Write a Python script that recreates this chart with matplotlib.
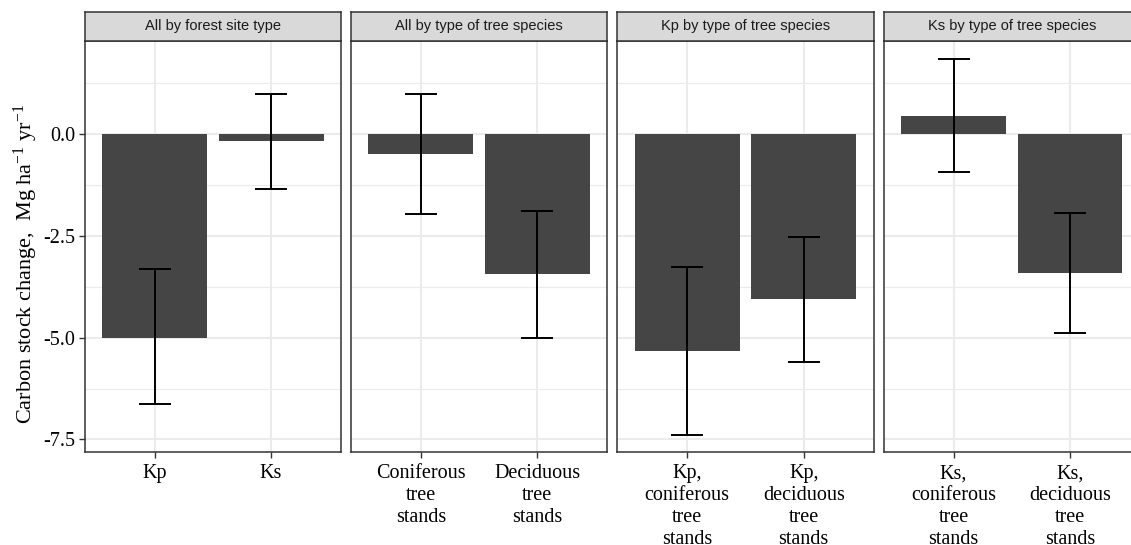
import matplotlib
matplotlib.use("Agg")
import matplotlib.pyplot as plt
import numpy as np

# ---- data ----
panel_titles = ["All by forest site type", "All by type of tree species",
                "Kp by type of tree species", "Ks by type of tree species"]
categories = [
    ["Kp", "Ks"],
    ["Coniferous\ntree\nstands", "Deciduous\ntree\nstands"],
    ["Kp,\nconiferous\ntree\nstands", "Kp,\ndeciduous\ntree\nstands"],
    ["Ks,\nconiferous\ntree\nstands", "Ks,\ndeciduous\ntree\nstands"],
]
means = [[-5.0, -0.19], [-0.49, -3.45], [-5.32, -4.06], [0.43, -3.42]]
err_low = [[-6.63, -1.36], [-1.97, -5.0], [-7.39, -5.61], [-0.93, -4.9]]
err_high = [[-3.32, 0.98], [0.98, -1.9], [-3.27, -2.54], [1.82, -1.95]]
y_ticks = [0.0, -2.5, -5.0, -7.5]
y_tick_labels = ["0.0", "-2.5", "-5.0", "-7.5"]
y_minor = [1.25, -1.25, -3.75, -6.25]

plt.rcParams['axes.unicode_minus'] = False
plt.rcParams['mathtext.fontset'] = 'custom'
plt.rcParams['mathtext.rm'] = 'Liberation Serif'
plt.rcParams['mathtext.it'] = 'Liberation Serif:italic'
plt.rcParams['mathtext.bf'] = 'Liberation Serif:bold'

W, H = 1131, 545
fig = plt.figure(figsize=(W / 100, H / 100), dpi=100)

serif = ['Liberation Serif', 'DejaVu Serif']
sans = ['Liberation Sans', 'DejaVu Sans']

panel_left = [84.7, 351.0, 617.3, 883.6]
panel_w = 256.3
panel_top = 40.7
panel_bot = 451.7
strip_top = 11.7

ylim = (-7.80, 2.28)
grey20 = '#333333'
grid_col = '#EBEBEB'

for i in range(4):
    l = panel_left[i] / W
    b = 1 - panel_bot / H
    w = panel_w / W
    h = (panel_bot - panel_top) / H
    ax = fig.add_axes([l, b, w, h])
    x = np.arange(len(categories[i]))
    ax.set_xlim(-0.6, len(x) - 1 + 0.6)
    ax.set_ylim(*ylim)
    # grid
    for yv in y_minor:
        ax.axhline(yv, color=grid_col, lw=0.8, zorder=0)
    for yv in y_ticks:
        ax.axhline(yv, color=grid_col, lw=1.5, zorder=0)
    for xv in x:
        ax.axvline(xv, color=grid_col, lw=1.5, zorder=0)
    ax.bar(x, means[i], width=0.9, color='#454545', zorder=2)
    m = np.array(means[i])
    lo = m - np.array(err_low[i])
    hi = np.array(err_high[i]) - m
    ax.errorbar(x, m, yerr=[lo, hi], fmt='none', ecolor='black',
                elinewidth=1.4, capsize=11.5, capthick=1.4, zorder=3)
    for s in ax.spines.values():
        s.set_color(grey20)
        s.set_linewidth(1.1)
    ax.set_xticks(x)
    ax.set_xticklabels(categories[i], fontsize=14.5, family=serif,
                       linespacing=1.2, color='black')
    ax.set_yticks(y_ticks)
    if i == 0:
        ax.set_yticklabels(y_tick_labels, fontsize=14.5, family=serif, color='black')
        ax.tick_params(axis='y', length=4, width=1.0, color=grey20, pad=3)
        ax.set_ylabel(r"Carbon stock change,  Mg ha$^{-1}$ yr$^{-1}$",
                      fontsize=16, family=serif)
        ax.yaxis.set_label_coords(-0.175, 0.457)
    else:
        ax.set_yticklabels([])
        ax.tick_params(axis='y', length=0)
    ax.tick_params(axis='x', length=4, width=1.0, color=grey20, pad=5)

    # strip
    sax = fig.add_axes([l, 1 - panel_top / H, w, (panel_top - strip_top) / H])
    sax.set_facecolor('#D9D9D9')
    sax.set_xticks([])
    sax.set_yticks([])
    for s in sax.spines.values():
        s.set_color(grey20)
        s.set_linewidth(1.1)
    sax.text(0.5, 0.5, panel_titles[i], ha='center', va='center',
             fontsize=10.5, family=sans, color='#1A1A1A', transform=sax.transAxes)

fig.savefig("out.png", dpi=100)
